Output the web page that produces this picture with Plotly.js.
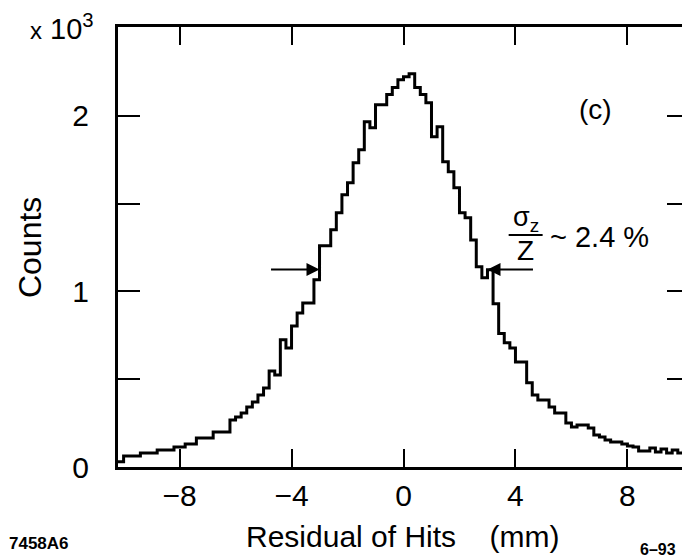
<!DOCTYPE html>
<html>
<head>
<meta charset="utf-8">
<script src="https://cdn.plot.ly/plotly-3.0.1.min.js"></script>
<style>
html, body { margin: 0; padding: 0; overflow: hidden; background: #fff; }
#chart { width: 692px; height: 560px; }
</style>
</head>
<body>
<div id="chart"></div>
<script>
// Histogram of hit residuals (mm), bins of 0.2 mm starting at -10.2 mm
const binStart = -10.2;
const binWidth = 0.2;
const counts = [
  30, 63, 63, 63, 80, 80, 80, 97, 97, 97,
  114, 114, 131, 131, 165, 165, 165, 199, 199, 199,
  268, 285, 308, 342, 370, 410, 450, 547, 524, 724,
  678, 803, 877, 934, 934, 1066, 1259, 1259, 1350, 1447,
  1550, 1618, 1732, 1806, 1966, 1932, 2063, 2063, 2120, 2160,
  2205, 2222, 2239, 2160, 2120, 2074, 1880, 1937, 1738, 1681,
  1590, 1447, 1419, 1293, 1140, 1077, 1123, 930, 760, 707,
  678, 598, 598, 479, 410, 382, 382, 342, 308, 308,
  251, 228, 239, 239, 222, 182, 171, 154, 142, 142,
  131, 120, 114, 91, 91, 108, 85, 103, 80, 97,
  80, 85
];
const xTickVals = [-8, -4, 0, 4, 8];
const yTickVals = [0, 1000, 2000];
const yTickText = ['0', '1', '2'];
const yMinorStep = 500;
const halfMax = { left: -3.0, right: 3.0, level: 1125 };

const edges = [];
for (let i = 0; i <= counts.length; i++) edges.push(+(binStart + i * binWidth).toFixed(2));
const ys = counts.concat([counts[counts.length - 1]]);

const FONT = 'Liberation Sans, Arial, Helvetica, sans-serif';

const trace = {
  x: edges, y: ys, type: 'scatter', mode: 'lines',
  line: { shape: 'hv', color: '#000', width: 3 },
  hoverinfo: 'skip', showlegend: false
};

// plot area: x 118..689.5, y 27..467
const L = 118, T = 27, W = 571.5, H = 440;
function px(x) { return (x - L) / W; }
function py(y) { return (T + H - y) / H; }

const layout = {
  width: 692, height: 560,
  margin: { l: L, r: 692 - L - W, t: T, b: 560 - T - H, pad: 0 },
  paper_bgcolor: '#fff', plot_bgcolor: '#fff',
  showlegend: false,
  font: { family: FONT, color: '#000', size: 28 },
  xaxis: {
    range: [binStart, binStart + counts.length * binWidth],
    tickvals: xTickVals,
    ticks: 'inside', ticklen: 18, tickwidth: 2, tickcolor: '#000',
    showline: true, linewidth: 3, linecolor: '#000', mirror: 'ticks',
    showgrid: false, zeroline: false,
    tickfont: { family: FONT, size: 30, color: '#000' },
    ticklabelstandoff: 0
  },
  yaxis: {
    range: [0, 2505],
    tickvals: yTickVals, ticktext: yTickText,
    ticks: 'inside', ticklen: 22, tickwidth: 2, tickcolor: '#000',
    minor: { dtick: yMinorStep, tick0: 0, ticks: 'inside', ticklen: 22, tickwidth: 2, tickcolor: '#000', showgrid: false },
    showline: true, linewidth: 3, linecolor: '#000', mirror: 'ticks',
    showgrid: false, zeroline: false,
    tickfont: { family: FONT, size: 30, color: '#000' },
    ticklabelstandoff: 20
  },
  shapes: [
    { type: 'line', xref: 'paper', yref: 'paper',
      x0: px(509), x1: px(543), y0: py(235), y1: py(235),
      line: { color: '#000', width: 2 } }
  ],
  annotations: [
    { text: 'Counts', xref: 'paper', yref: 'paper', x: px(30), y: py(248),
      textangle: -90, showarrow: false, xanchor: 'center', yanchor: 'middle',
      font: { family: FONT, size: 32, color: '#000' } },
    { text: 'Residual of Hits\u00a0\u00a0\u00a0\u00a0(mm)', xref: 'paper', yref: 'paper',
      x: px(403), y: py(536), showarrow: false, xanchor: 'center', yanchor: 'middle',
      font: { family: FONT, size: 30, color: '#000' } },
    { text: '<span style="font-size:24px">x</span>\u00a010<sup>3</sup>', xref: 'paper', yref: 'paper',
      x: px(28), y: py(27), showarrow: false, xanchor: 'left', yanchor: 'middle',
      font: { family: FONT, size: 29, color: '#000' } },
    { text: '(c)', xref: 'paper', yref: 'paper', x: px(596), y: py(109),
      showarrow: false, xanchor: 'center', yanchor: 'middle',
      font: { family: FONT, size: 28, color: '#000' } },
    { text: 'σ<sub>z</sub>', xref: 'paper', yref: 'paper', x: px(526), y: py(219),
      showarrow: false, xanchor: 'center', yanchor: 'middle',
      font: { family: FONT, size: 27, color: '#000' } },
    { text: 'Z', xref: 'paper', yref: 'paper', x: px(526), y: py(251),
      showarrow: false, xanchor: 'center', yanchor: 'middle',
      font: { family: FONT, size: 28, color: '#000' } },
    { text: '~ 2.4\u00a0%', xref: 'paper', yref: 'paper', x: px(548), y: py(237),
      showarrow: false, xanchor: 'left', yanchor: 'middle',
      font: { family: FONT, size: 29, color: '#000' } },
    { text: '', x: halfMax.left, y: halfMax.level, xref: 'x', yref: 'y',
      showarrow: true, ax: -50, ay: 0, arrowhead: 2, arrowsize: 1.3, arrowwidth: 2, arrowcolor: '#000' },
    { text: '', x: halfMax.right, y: halfMax.level, xref: 'x', yref: 'y',
      showarrow: true, ax: 47, ay: 0, arrowhead: 2, arrowsize: 1.3, arrowwidth: 2, arrowcolor: '#000' },
    { text: '<b>7458A6</b>', xref: 'paper', yref: 'paper', x: px(7), y: py(543),
      showarrow: false, xanchor: 'left', yanchor: 'middle',
      font: { family: FONT, size: 17, color: '#000' } },
    { text: '<b>6–93</b>', xref: 'paper', yref: 'paper', x: px(658), y: py(549),
      showarrow: false, xanchor: 'center', yanchor: 'middle',
      font: { family: FONT, size: 16, color: '#000' } }
  ]
};

Plotly.newPlot('chart', [trace], layout, { displayModeBar: false, staticPlot: true });
</script>
</body>
</html>
